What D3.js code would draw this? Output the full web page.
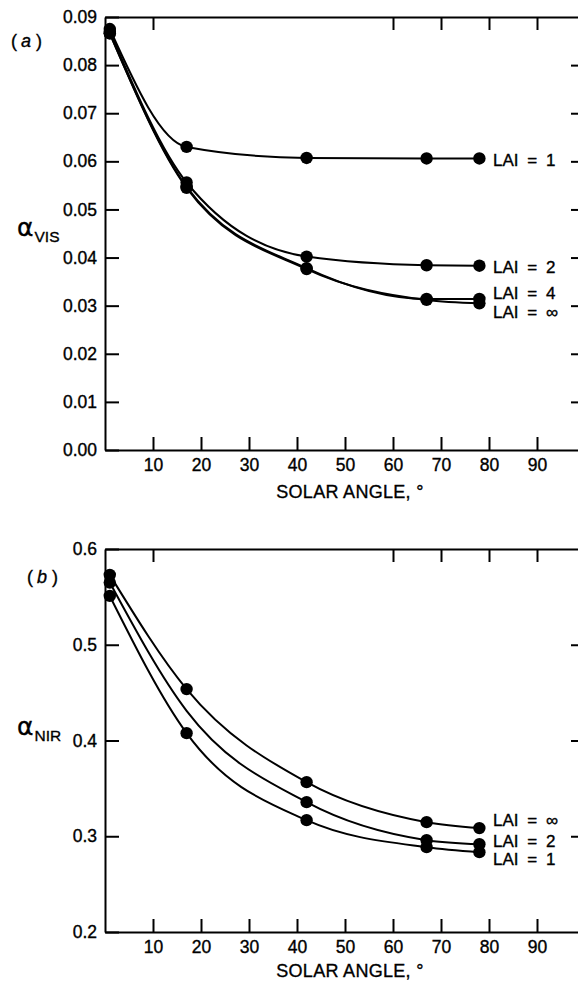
<!DOCTYPE html>
<html>
<head>
<meta charset="utf-8">
<script src="https://cdn.jsdelivr.net/npm/d3@7/dist/d3.min.js"></script>
<style>
  html, body { margin: 0; padding: 0; background: #fff; }
  svg { display: block; }
  text { font-family: "Liberation Sans", Arial, sans-serif; fill: #000; stroke: #000; stroke-width: 0.35px; }
</style>
</head>
<body>
<svg id="chart" width="578" height="987"></svg>
<script>
// ---------- data ----------
const solarAngles = [1, 17, 42, 67, 78];

// Panel (a): visible albedo
const visLAI1   = [0.0875, 0.0630, 0.0607, 0.0606, 0.0606];
const visLAI2   = [0.0870, 0.0556, 0.0402, 0.0384, 0.0383];
const visLAI4   = [0.0866, 0.0547, 0.0378, 0.0314, 0.0314];
const visLAIInf = [0.0866, 0.0545, 0.0376, 0.0312, 0.0305];
const visLabels = ["LAI = 1", "LAI = 2", "LAI = 4", "LAI = \u221E"];

// Panel (b): near-infrared albedo
const nirLAIInf = [0.573, 0.4537, 0.3565, 0.3147, 0.3085];
const nirLAI2   = [0.565, 0.431, 0.3356, 0.2959, 0.2917];
const nirLAI2Marked = [true, false, true, true, true];
const nirLAI1   = [0.551, 0.4077, 0.3168, 0.2886, 0.2834];
const nirLabels = ["LAI = \u221E", "LAI = 2", "LAI = 1"];

const xTickValues = [10, 20, 30, 40, 50, 60, 70, 80, 90];
const xTopTickValues = [10, 60, 70, 80, 90];
const visTickValues = [0.00, 0.01, 0.02, 0.03, 0.04, 0.05, 0.06, 0.07, 0.08, 0.09];
const nirTickValues = [0.2, 0.3, 0.4, 0.5, 0.6];
const xTitle = "SOLAR ANGLE, \u00B0";

// ---------- drawing ----------
const svg = d3.select("#chart");
const LEFT = 105, RIGHT = 585;

function panel(cfg) {
  const x = d3.scaleLinear().domain([0, 100]).range([LEFT, RIGHT]);
  const y = d3.scaleLinear().domain(cfg.domain).range([cfg.bottom, cfg.top]);
  const g = svg.append("g");

  const styleAxis = sel => {
    sel.selectAll("path.domain").attr("stroke", "#000").attr("stroke-width", 2);
    sel.selectAll(".tick line").attr("stroke", "#000").attr("stroke-width", 2);
    sel.selectAll(".tick text").attr("font-size", 17.5).attr("font-family", "Liberation Sans, Arial, sans-serif");
  };

  g.append("g").attr("transform", `translate(0,${cfg.bottom})`)
    .call(d3.axisBottom(x).tickValues(xTickValues).tickSizeInner(-13).tickSizeOuter(0).tickPadding(9).tickFormat(d3.format("d")))
    .call(styleAxis);
  g.append("g").attr("transform", `translate(0,${cfg.top})`)
    .call(d3.axisTop(x).tickValues(xTopTickValues).tickSizeInner(-13).tickSizeOuter(0).tickFormat(""))
    .call(styleAxis);
  g.append("g").attr("transform", `translate(${LEFT},0)`)
    .call(d3.axisLeft(y).tickValues(cfg.ticks).tickSizeInner(-14).tickSizeOuter(0).tickPadding(8).tickFormat(d3.format(cfg.fmt)))
    .call(styleAxis);
  g.append("g").attr("transform", `translate(${RIGHT},0)`)
    .call(d3.axisRight(y).tickValues(cfg.rightTicks).tickSizeInner(-14).tickSizeOuter(0).tickFormat(""))
    .call(styleAxis);

  g.selectAll(".tick text").attr("fill", "#000");

  const line = d3.line().x(d => x(d[0])).y(d => y(d[1])).curve(d3.curveMonotoneX);

  cfg.series.forEach(s => {
    const pts = solarAngles.map((a, i) => [a, s.values[i]]);
    g.append("path").attr("d", line(pts))
      .attr("fill", "none").attr("stroke", "#000").attr("stroke-width", 2);
    g.selectAll(null).data(pts.filter((p, i) => !s.marked || s.marked[i])).enter()
      .append("circle").attr("cx", d => x(d[0])).attr("cy", d => y(d[1])).attr("r", 6.2).attr("fill", "#000");
  });

  cfg.labels.forEach(l => {
    g.append("text").attr("x", 493).attr("y", l.baseline).attr("font-size", 17)
      .attr("word-spacing", 4).attr("xml:space", "preserve").text(l.text);
  });

  g.append("text").attr("x", 350).attr("y", cfg.bottom + cfg.xTitleOff).attr("text-anchor", "middle")
    .attr("font-size", 18).attr("letter-spacing", 0.3).text(xTitle);

  const yt = g.append("text").attr("x", 17).attr("y", cfg.yTitleBase);
  yt.append("tspan").attr("font-family", "DejaVu Sans, sans-serif").attr("font-size", 25).text("\u03B1");
  yt.append("tspan").attr("font-size", 15.5).attr("dy", 6).attr("dx", 1).text(cfg.sub);

  const pl = g.append("text").attr("x", cfg.plx).attr("y", cfg.ply).attr("font-size", 18).attr("stroke-width", 0.2);
  pl.append("tspan").text("(");
  pl.append("tspan").attr("font-style", "italic").attr("dx", 4).text(cfg.letter);
  pl.append("tspan").attr("dx", 5).text(")");
}

panel({
  domain: [0, 0.09], top: 17, bottom: 450,
  ticks: visTickValues, rightTicks: visTickValues.slice(1, 9), fmt: ".2f",
  series: [
    { values: visLAI1 }, { values: visLAI2 }, { values: visLAI4 }, { values: visLAIInf }
  ],
  labels: [
    { text: visLabels[0], baseline: 166 },
    { text: visLabels[1], baseline: 273 },
    { text: visLabels[2], baseline: 299 },
    { text: visLabels[3], baseline: 318 }
  ],
  sub: "VIS", yTitleBase: 236, letter: "a", plx: 11, ply: 47, xTitleOff: 48
});

panel({
  domain: [0.2, 0.6], top: 549, bottom: 932,
  ticks: nirTickValues, rightTicks: nirTickValues.slice(1, 4), fmt: ".1f",
  series: [
    { values: nirLAIInf }, { values: nirLAI2, marked: nirLAI2Marked }, { values: nirLAI1 }
  ],
  labels: [
    { text: nirLabels[0], baseline: 826 },
    { text: nirLabels[1], baseline: 847 },
    { text: nirLabels[2], baseline: 865 }
  ],
  sub: "NIR", yTitleBase: 735, letter: "b", plx: 27, ply: 583, xTitleOff: 45
});
</script>
</body>
</html>
